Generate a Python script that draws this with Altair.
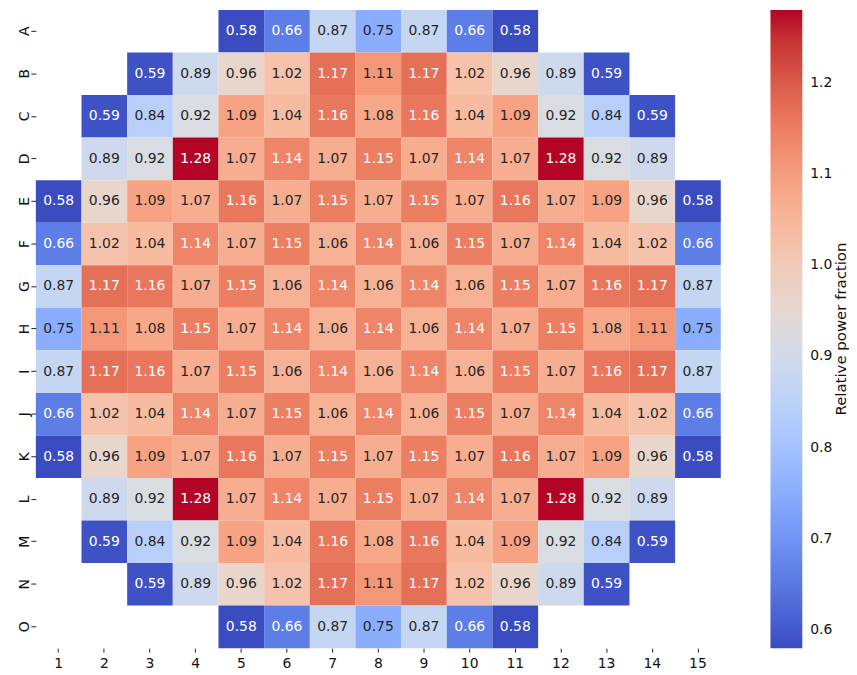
import altair as alt
import pandas as pd
import numpy as np

row_labels = list("ABCDEFGHIJKLMNO")
col_labels = [str(i) for i in range(1, 16)]

# None = no assembly
row_A = [None, None, None, None, 0.58, 0.66, 0.87, 0.75, 0.87, 0.66, 0.58, None, None, None, None]
row_B = [None, None, 0.59, 0.89, 0.96, 1.02, 1.17, 1.11, 1.17, 1.02, 0.96, 0.89, 0.59, None, None]
row_C = [None, 0.59, 0.84, 0.92, 1.09, 1.04, 1.16, 1.08, 1.16, 1.04, 1.09, 0.92, 0.84, 0.59, None]
row_D = [None, 0.89, 0.92, 1.28, 1.07, 1.14, 1.07, 1.15, 1.07, 1.14, 1.07, 1.28, 0.92, 0.89, None]
row_E = [0.58, 0.96, 1.09, 1.07, 1.16, 1.07, 1.15, 1.07, 1.15, 1.07, 1.16, 1.07, 1.09, 0.96, 0.58]
row_F = [0.66, 1.02, 1.04, 1.14, 1.07, 1.15, 1.06, 1.14, 1.06, 1.15, 1.07, 1.14, 1.04, 1.02, 0.66]
row_G = [0.87, 1.17, 1.16, 1.07, 1.15, 1.06, 1.14, 1.06, 1.14, 1.06, 1.15, 1.07, 1.16, 1.17, 0.87]
row_H = [0.75, 1.11, 1.08, 1.15, 1.07, 1.14, 1.06, 1.14, 1.06, 1.14, 1.07, 1.15, 1.08, 1.11, 0.75]
row_I = [0.87, 1.17, 1.16, 1.07, 1.15, 1.06, 1.14, 1.06, 1.14, 1.06, 1.15, 1.07, 1.16, 1.17, 0.87]
row_J = [0.66, 1.02, 1.04, 1.14, 1.07, 1.15, 1.06, 1.14, 1.06, 1.15, 1.07, 1.14, 1.04, 1.02, 0.66]
row_K = [0.58, 0.96, 1.09, 1.07, 1.16, 1.07, 1.15, 1.07, 1.15, 1.07, 1.16, 1.07, 1.09, 0.96, 0.58]
row_L = [None, 0.89, 0.92, 1.28, 1.07, 1.14, 1.07, 1.15, 1.07, 1.14, 1.07, 1.28, 0.92, 0.89, None]
row_M = [None, 0.59, 0.84, 0.92, 1.09, 1.04, 1.16, 1.08, 1.16, 1.04, 1.09, 0.92, 0.84, 0.59, None]
row_N = [None, None, 0.59, 0.89, 0.96, 1.02, 1.17, 1.11, 1.17, 1.02, 0.96, 0.89, 0.59, None, None]
row_O = [None, None, None, None, 0.58, 0.66, 0.87, 0.75, 0.87, 0.66, 0.58, None, None, None, None]

rows = [row_A, row_B, row_C, row_D, row_E, row_F, row_G, row_H,
        row_I, row_J, row_K, row_L, row_M, row_N, row_O]

colorbar_ticks = [0.6, 0.7, 0.8, 0.9, 1.0, 1.1, 1.2]
colorbar_title = ["Relative power fraction"]

records = []
for rl, vals in zip(row_labels, rows):
    for cl, v in zip(col_labels, vals):
        if v is not None:
            records.append({"row": rl, "col": cl, "value": v, "label": f"{v:.2f}"})
df = pd.DataFrame(records)

# matplotlib "coolwarm" (Moreland) colour stops
coolwarm = [
    (59, 76, 192), (68, 90, 204), (77, 104, 215), (87, 117, 225), (98, 130, 234),
    (108, 142, 241), (119, 154, 247), (130, 165, 251), (141, 176, 254), (152, 185, 255),
    (163, 194, 255), (174, 201, 253), (184, 208, 249), (194, 213, 244), (204, 217, 238),
    (213, 219, 230), (221, 221, 221), (229, 216, 209), (236, 211, 197), (241, 204, 185),
    (245, 196, 173), (247, 187, 160), (247, 177, 148), (247, 166, 135), (244, 154, 123),
    (241, 141, 111), (236, 127, 99), (229, 112, 88), (222, 96, 77), (213, 80, 66),
    (203, 62, 56), (192, 40, 47), (180, 4, 38),
]
cw_range = ["#%02x%02x%02x" % c for c in coolwarm]
vmin, vmax = 0.58, 1.28
cw_domain = [float(x) for x in np.linspace(vmin, vmax, len(cw_range))]

W, H = 689, 642
FONT = "DejaVu Sans"

base = alt.Chart(df).encode(
    x=alt.X("col:O", sort=col_labels, title=None,
            scale=alt.Scale(paddingInner=0, paddingOuter=0),
            axis=alt.Axis(labelAngle=0, domain=False, grid=False, tickSize=4,
                          labelFontSize=14, labelPadding=4, tickColor="#222",
                          labelColor="#111", labelFont=FONT)),
    y=alt.Y("row:O", sort=row_labels, title=None,
            scale=alt.Scale(paddingInner=0, paddingOuter=0),
            axis=alt.Axis(labelAngle=270, domain=False, grid=False, tickSize=5,
                          labelFontSize=14, labelPadding=6, tickColor="#222",
                          labelColor="#111", labelFont=FONT,
                          labelBaseline="middle", labelAlign="center")),
)

rects = base.mark_rect().encode(
    color=alt.Color("value:Q",
                    scale=alt.Scale(domain=cw_domain, range=cw_range, interpolate="rgb"),
                    legend=alt.Legend(title=None,
                                      orient="right", direction="vertical",
                                      gradientLength=H, gradientThickness=32,
                                      gradientStrokeWidth=0,
                                      offset=50, values=colorbar_ticks,
                                      format=".1f", labelFontSize=14, labelOffset=8,
                                      labelColor="#111", labelFont=FONT,
                                      labelOverlap=False)),
)

texts = base.mark_text(fontSize=14, font=FONT).encode(
    text="label:N",
    color=alt.condition("datum.value >= 1.135 || datum.value <= 0.70",
                        alt.value("white"), alt.value("#262626")),
)

cb_title = alt.Chart(pd.DataFrame({"t": colorbar_title})).mark_text(
    angle=270, fontSize=15, font=FONT, color="#111",
    align="center", baseline="middle",
).encode(
    text="t:N",
    x=alt.value(W + 121),
    y=alt.value(H / 2),
)

chart = alt.layer(rects, texts, cb_title).properties(
    width=W, height=H,
    padding={"left": 10, "top": 0, "right": 0, "bottom": 0},
).configure_view(stroke=None)

chart.save("out.html", embed_options={"renderer": "svg", "actions": False})
